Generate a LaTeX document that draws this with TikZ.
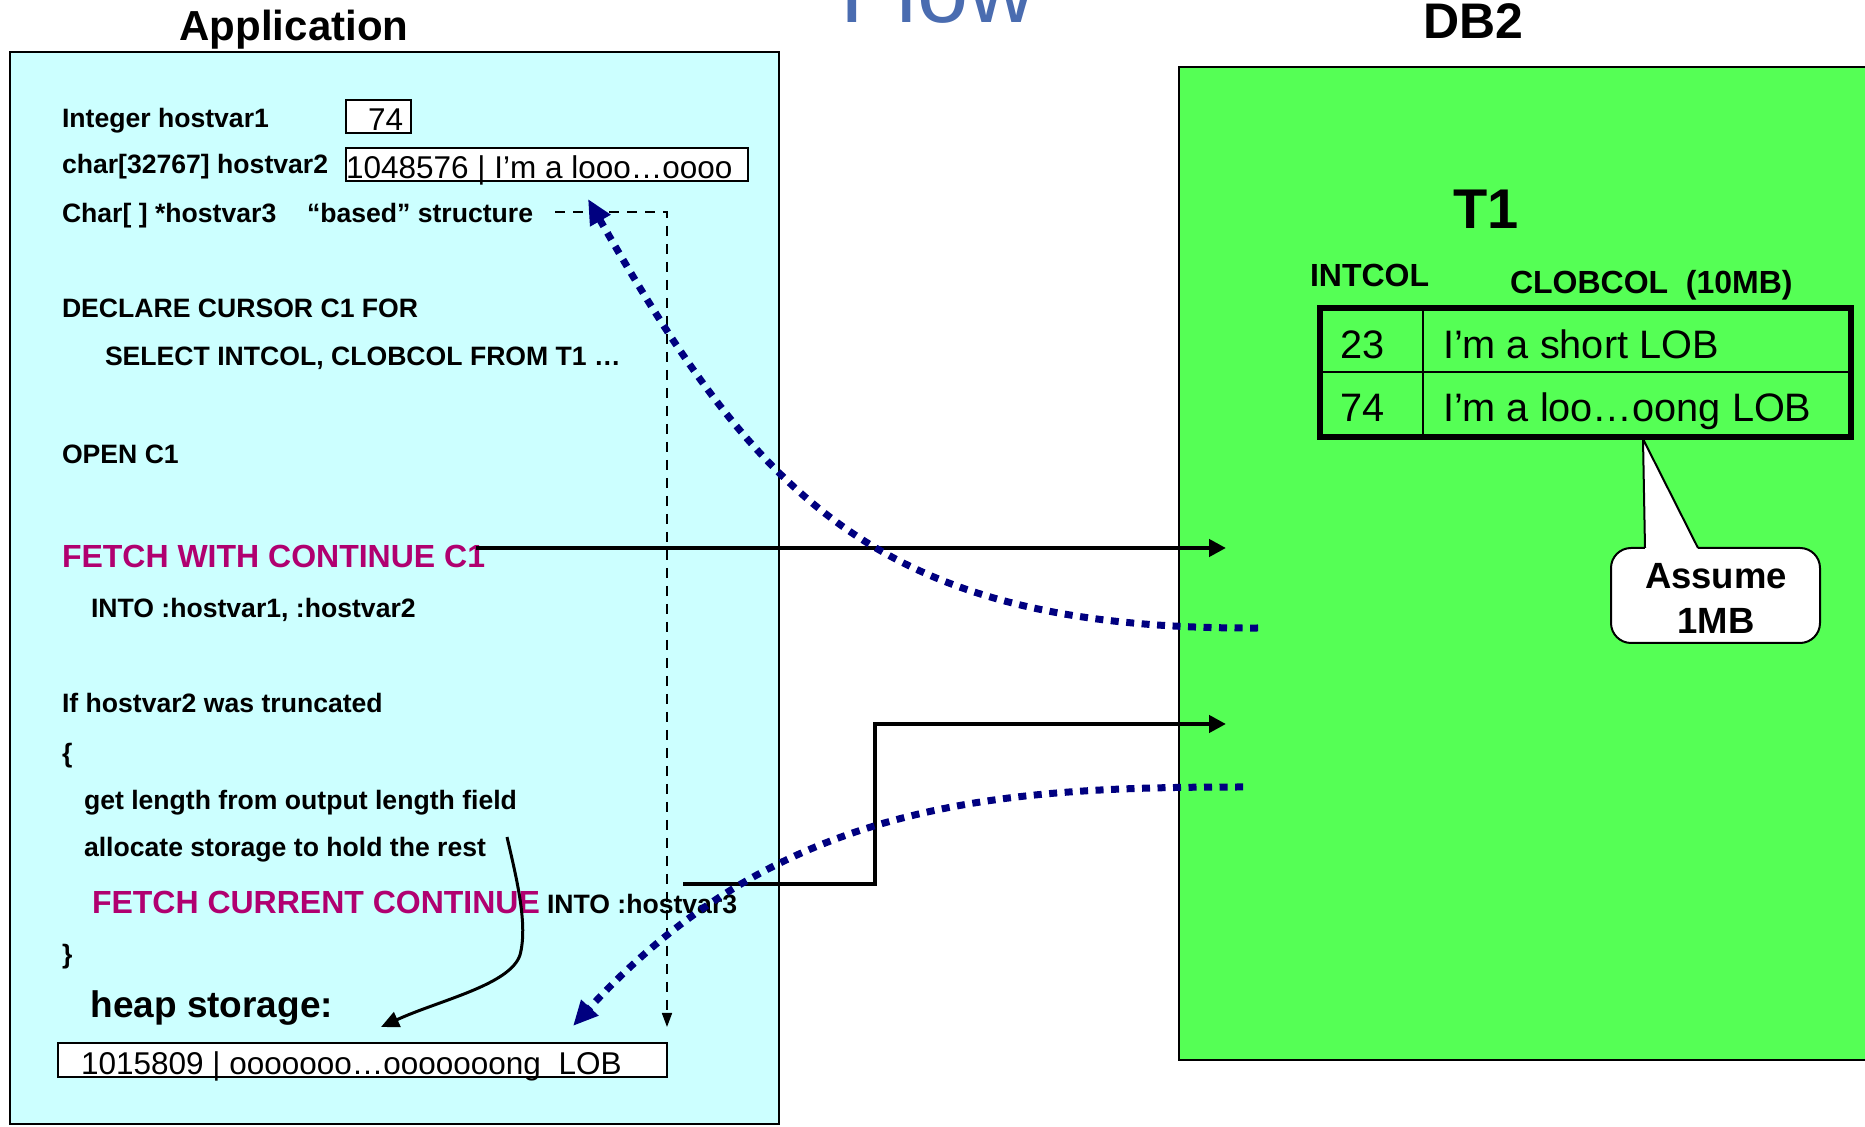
\documentclass[tikz,border=0pt]{standalone}
\usepackage{fontspec}
\setmainfont{Liberation Sans}
\usetikzlibrary{arrows.meta}
\definecolor{appfill}{RGB}{204,255,255}
\definecolor{dbfill}{RGB}{85,255,85}
\definecolor{navyc}{RGB}{0,0,128}
\definecolor{magc}{RGB}{176,0,112}
\definecolor{flowc}{RGB}{74,108,176}
\begin{document}
\begin{tikzpicture}[x=0.5pt,y=-0.5pt,
  txt/.style={anchor=base west,inner sep=0pt,outer sep=0pt,font=\bfseries\fontsize{13.3}{16}\selectfont},
  magtxt/.style={txt,text=magc,font=\bfseries\fontsize{16}{19}\selectfont},
  valtxt/.style={anchor=base west,inner sep=0pt,outer sep=0pt,font=\fontsize{15.75}{19}\selectfont},
  tabtxt/.style={anchor=base west,inner sep=0pt,outer sep=0pt,font=\fontsize{19.85}{24}\selectfont},
  hdr/.style={anchor=base west,inner sep=0pt,outer sep=0pt,font=\bfseries\fontsize{16}{19}\selectfont},
  callouttxt/.style={anchor=base,inner sep=0pt,outer sep=0pt,font=\bfseries\fontsize{18.25}{22}\selectfont},
  valbox/.style={line width=1pt,fill=white},
  solidarrow/.style={line width=2.2pt,-{Triangle[length=8.5pt,width=8.5pt]}},
  dotarrow/.style={navyc,line width=3.5pt,dash pattern=on 4pt off 3.75pt,-{Triangle[length=12.5pt,width=11pt]}},
  dasharrow/.style={line width=0.8pt,dash pattern=on 5pt off 4pt,-{Triangle[length=7pt,width=5pt]}},
  curvearrow/.style={line width=1.5pt,-{Triangle[length=9pt,width=8pt]}}
]
\path[use as bounding box] (0,0) rectangle (1865,1127);
\clip (0,0) rectangle (1865,1127);
\fill[white] (0,0) rectangle (1865,1127);

% titles
\node[anchor=base west,inner sep=0pt,text=flowc,font=\fontsize{46}{50}\selectfont] (flow) at (840,23) {Flow};
\node[anchor=base,inner sep=0pt,font=\bfseries\fontsize{21}{25}\selectfont] (apptitle) at (294,40.5) {Application};
\node[anchor=base,inner sep=0pt,font=\bfseries\fontsize{25}{30}\selectfont] (dbtitle) at (1473,38.5) {DB2};

% main boxes
\draw[line width=1pt,fill=appfill] (10,52) rectangle (779,1124);
\draw[line width=1.2pt,fill=dbfill] (1179,67) rectangle (1900,1060);

% application text
\node[txt] (l1) at (62,128) {Integer hostvar1};
\draw[valbox] (346,100) rectangle (411,133);
\node[valtxt] (v1) at (368,130.5) {74};
\node[txt] (l2) at (62,174) {char[32767] hostvar2};
\draw[valbox] (346,148) rectangle (748,181);
\node[valtxt] (v2) at (346,178.5) {1048576 | I’m a looo…oooo};
\node[txt] (l3) at (62,222.5) {Char[ ] *hostvar3};
\node[txt] (l3b) at (307,222.5) {“based” structure};
\node[txt] (l4) at (62,317.5) {DECLARE CURSOR C1 FOR};
\node[txt] (l5) at (105,365.5) {SELECT INTCOL, CLOBCOL FROM T1 …};
\node[txt] (l6) at (62,463.5) {OPEN C1};
\node[magtxt] (l7) at (62,567.5) {FETCH WITH CONTINUE C1};
\node[txt] (l8) at (91,617.5) {INTO :hostvar1, :hostvar2};
\node[txt] (l9) at (62,712.5) {If hostvar2 was truncated};
\node[txt] (l10) at (62,762.5) {\{};
\node[txt] (l11) at (84,809.5) {get length from output length field};
\node[txt] (l12) at (84,856.5) {allocate storage to hold the rest};
\node[magtxt] (l13) at (92,913.5) {FETCH CURRENT CONTINUE};
\node[txt] (l13b) at (547,913.5) {INTO :hostvar3};
\node[txt] (l14) at (62,963.5) {\}};
\node[anchor=base west,inner sep=0pt,font=\bfseries\fontsize{18.5}{22}\selectfont] (heap) at (90,1017.5) {heap storage:};
\draw[valbox] (58,1043) rectangle (667,1077);
\node[valtxt] (v3) at (81,1074) {1015809 | ooooooo…ooooooong~~LOB};

% DB2 side
\node[anchor=base west,inner sep=0pt,font=\bfseries\fontsize{28}{32}\selectfont] (t1) at (1453,228.5) {T1};
\node[hdr] (intcol) at (1310,286.5) {INTCOL};
\node[hdr] (clobcol) at (1510,293.5) {CLOBCOL~~(10MB)};
\draw[line width=3pt] (1320,308) rectangle (1851,437);
\draw[line width=1pt] (1423,308) -- (1423,437);
\draw[line width=1pt] (1320,372) -- (1851,372);
\node[tabtxt] (c23) at (1340,358.5) {23};
\node[tabtxt] (lob1) at (1443,358.5) {I’m a short LOB};
\node[tabtxt] (c74) at (1340,421.5) {74};
\node[tabtxt] (lob2) at (1443,421.5) {I’m a loo…oong LOB};

% callout
\draw[line width=1pt,fill=white,rounded corners=10pt] (1611,548) rectangle (1820,643);
\fill[white] (1646,553) -- (1645,548) -- (1643,439) -- (1698,548) -- (1697,553) -- cycle;
\coordinate (ptip) at (1643,439);
\draw[line width=1pt] (1645,548) -- (ptip) -- (1698,548);
\node[callouttxt] (assume) at (1716,588.5) {Assume};
\node[callouttxt] (onemb) at (1716,633.5) {1MB};

% connectors
\coordinate (a1s) at (476,548); \coordinate (a1e) at (1226,548);
\draw[solidarrow] (a1s) -- (a1e);
\coordinate (a2s) at (683,884); \coordinate (a2m) at (875,884);
\coordinate (a2n) at (875,724); \coordinate (a2e) at (1226,724);
\draw[solidarrow,line join=miter] (a2s) -- (a2m) -- (a2n) -- (a2e);

\coordinate (d0) at (555,212); \coordinate (d1) at (667,212); \coordinate (d2) at (667,1027);
\draw[dasharrow] (d0) -- (d1) -- (d2);

\coordinate (c0) at (507,837); \coordinate (c1) at (520,955); \coordinate (c2) at (381,1027);
\draw[curvearrow] (c0) .. controls (517,880) and (528,925) .. (c1) .. controls (510,985) and (440,1000) .. (c2);

\coordinate (p0) at (1258,628); \coordinate (p3) at (588,199);
\draw[dotarrow] (p0) .. controls (880,630) and (760,500) .. (p3);
\coordinate (q0) at (1243,787); \coordinate (q3) at (573,1026);
\draw[dotarrow] (q0) .. controls (1000,787) and (780,800) .. (q3);
\end{tikzpicture}
\end{document}
